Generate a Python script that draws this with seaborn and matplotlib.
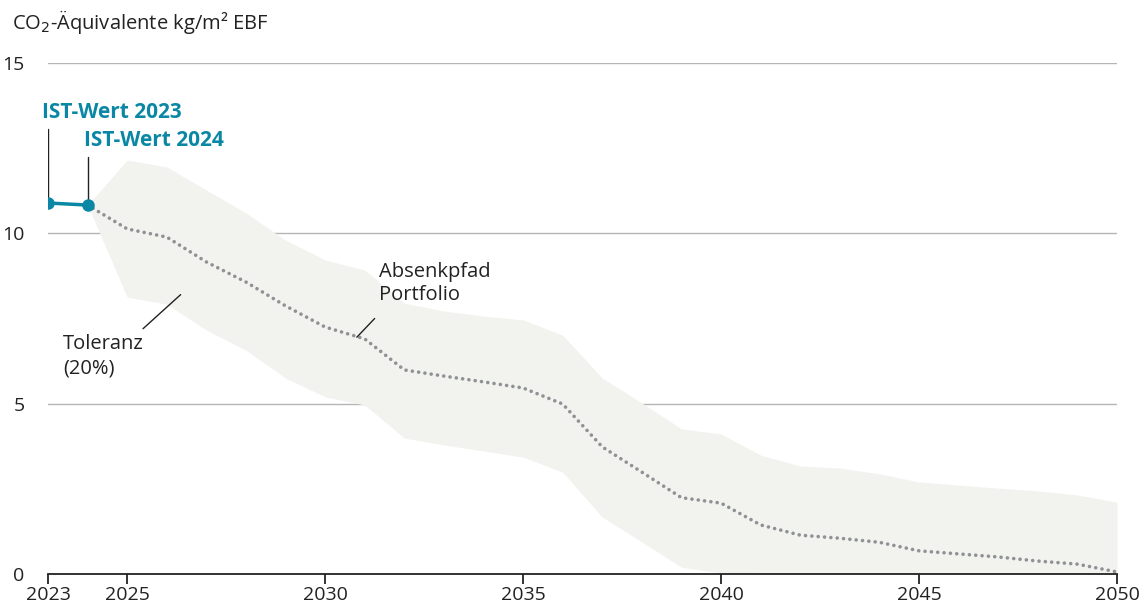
import numpy as np
import pandas as pd
import matplotlib.pyplot as plt
import seaborn as sns

# Jahre und Werte
ist_jahre = [2023, 2024]
ist_werte = [10.89, 10.83]

pfad_jahre = list(range(2024, 2051))
pfad_werte = [10.83, 10.13, 9.89, 9.16, 8.57, 7.87, 7.25, 6.90, 5.99, 5.81,
              5.64, 5.46, 4.99, 3.73, 2.99, 2.24, 2.08, 1.44, 1.14, 1.05,
              0.93, 0.68, 0.59, 0.50, 0.38, 0.29, 0.06]
band_oben = [10.83, 12.15, 11.95, 11.27, 10.60, 9.80, 9.22, 8.92, 7.95, 7.72,
             7.57, 7.46, 7.01, 5.75, 5.02, 4.26, 4.11, 3.49, 3.17, 3.11,
             2.94, 2.70, 2.61, 2.52, 2.44, 2.32, 2.11]
band_unten = [10.83, 8.13, 7.92, 7.16, 6.57, 5.75, 5.20, 4.96, 3.99, 3.79,
              3.61, 3.43, 2.99, 1.67, 0.94, 0.20, 0.03, 0.0, 0.0, 0.0,
              0.0, 0.0, 0.0, 0.0, 0.0, 0.0, 0.0]

x_ticks = [2023, 2025, 2030, 2035, 2040, 2045, 2050]
y_ticks = [0, 5, 10, 15]

teal = "#0a87a4"
grau_punkt = "#8e9294"
band_farbe = "#f2f2ee"
text_farbe = "#222222"

sns.set_theme(style="white")
plt.rcParams['font.family'] = ['Open Sans', 'DejaVu Sans']

fig = plt.figure(figsize=(11.46, 6.12), dpi=100)
ax = fig.add_axes([48 / 1146, 1 - 574 / 612, (1117 - 48) / 1146, (574 - 63) / 612])

df_pfad = pd.DataFrame({"jahr": pfad_jahre, "wert": pfad_werte})
df_ist = pd.DataFrame({"jahr": ist_jahre, "wert": ist_werte})

# Gitterlinien
for yv in y_ticks[1:]:
    ax.axhline(yv, color="#b5b5b5", lw=1, zorder=0)

ax.fill_between(pfad_jahre, band_unten, band_oben, color=band_farbe, lw=0, zorder=1)

sns.lineplot(data=df_pfad, x="jahr", y="wert", ax=ax, color=grau_punkt, lw=2.6,
             linestyle=(0, (0.01, 1.75)), dash_capstyle="round", zorder=2)
sns.lineplot(data=df_ist, x="jahr", y="wert", ax=ax, color=teal, lw=2.5,
             marker="o", markersize=9, markeredgewidth=0, zorder=4)

ax.set_xlim(2023, 2050)
ax.set_ylim(0, 15)
ax.set_xticks(x_ticks)
ax.set_xticklabels([str(t) for t in x_ticks])
ax.set_yticks(y_ticks)
ax.set_yticklabels([str(t) for t in y_ticks])
ax.set_xlabel("")
ax.set_ylabel("")

for s in ["top", "right", "left"]:
    ax.spines[s].set_visible(False)
ax.spines["bottom"].set_color(text_farbe)
ax.spines["bottom"].set_linewidth(1.3)
ax.spines["bottom"].set_zorder(5)
ax.tick_params(axis="x", direction="out", length=7, width=1.3, color=text_farbe,
               labelsize=14, labelcolor=text_farbe, pad=2, bottom=True)
ax.tick_params(axis="y", length=0, labelsize=14, labelcolor=text_farbe, pad=17)

# Beschriftungen
fig.text(12 / 1146, 1 - 22 / 612, "CO$_2$-Äquivalente kg/m² EBF", fontsize=14.5,
         color=text_farbe, va="center", ha="left")

ax.plot([2023, 2023], [10.89, 13.05], color=text_farbe, lw=1, zorder=3)
ax.plot([2024, 2024], [10.83, 12.25], color=text_farbe, lw=1, zorder=3)
ax.text(2022.85, 13.25, "IST-Wert 2023", color=teal, fontsize=15, fontweight="bold",
        ha="left", va="bottom")
ax.text(2023.9, 12.42, "IST-Wert 2024", color=teal, fontsize=15, fontweight="bold",
        ha="left", va="bottom")

ax.text(2031.35, 7.9, "Absenkpfad\nPortfolio", fontsize=14.5, color=text_farbe,
        ha="left", va="bottom", linespacing=1.2)
ax.plot([2030.8, 2031.25], [6.95, 7.5], color=text_farbe, lw=1, zorder=3)

ax.text(2023.38, 5.75, "Toleranz\n(20%)", fontsize=14.5, color=text_farbe,
        ha="left", va="bottom", linespacing=1.3)
ax.plot([2025.4, 2026.35], [7.2, 8.2], color=text_farbe, lw=1, zorder=3)

fig.savefig("out.png", dpi=100)
